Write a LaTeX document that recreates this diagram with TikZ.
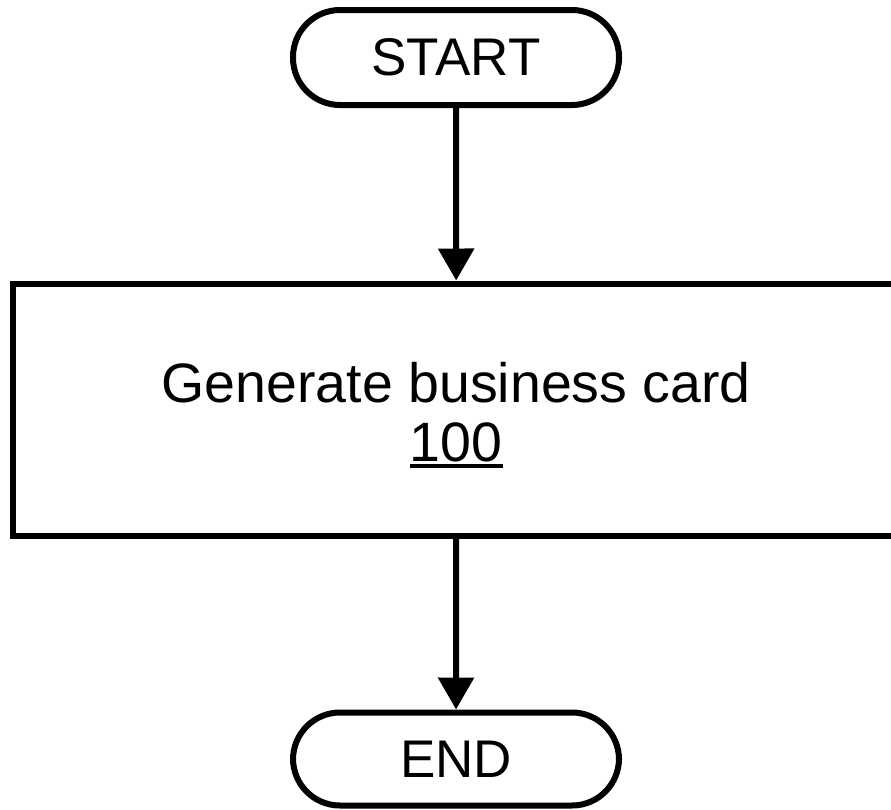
\documentclass[tikz,border=0pt]{standalone}
\usepackage{fontspec}
\setmainfont{Liberation Sans}
\usetikzlibrary{arrows.meta}
% heavy underline for reference numerals
\newcommand{\refnum}[1]{\leavevmode\setbox0\hbox{#1}\rlap{\rule[-7pt]{\wd0}{4pt}}\box0}
\begin{document}
\begin{tikzpicture}[x=1pt,y=1pt,
  terminal/.style={draw, line width=6pt, minimum width=326pt, minimum height=95pt,
    rounded corners=47pt, inner sep=0pt, font=\fontsize{53}{60}\selectfont},
  process/.style={draw, line width=6pt, minimum width=887.5pt, minimum height=252.5pt,
    inner sep=0pt, align=center, font=\fontsize{55.5}{59}\selectfont},
  flow/.style={line width=6pt, -{Triangle[width=35pt,length=32pt]}}]
  \useasboundingbox (0,0) rectangle (891,-809);
  \node[terminal] (start) at (456,-57.5) {START};
  \node[process] (gen) at (456.25,-409.75)
    {\rule{0pt}{51pt}Generate business card\\\refnum{100}};
  \node[terminal, minimum height=93pt] (end) at (456,-759) {END};
  \draw[flow] (start) -- (gen);
  \draw[flow] (gen) -- (end);
\end{tikzpicture}
\end{document}
